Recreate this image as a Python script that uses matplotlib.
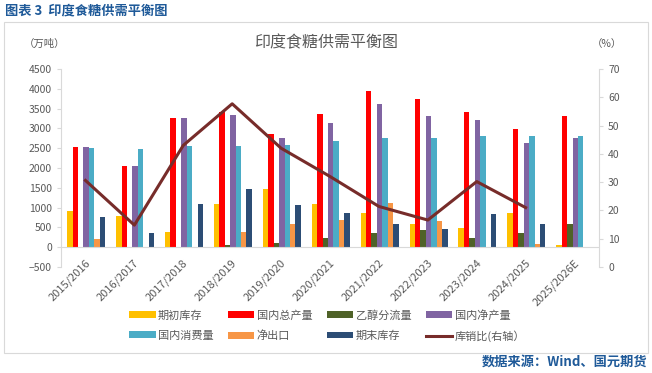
import numpy as np
import matplotlib.pyplot as plt
from matplotlib.patches import Rectangle
from matplotlib.lines import Line2D

plt.rcParams['font.family'] = ['Noto Sans CJK SC', 'DejaVu Sans']

# 数据（万吨 / %）
years = ["2015/2016", "2016/2017", "2017/2018", "2018/2019", "2019/2020", "2020/2021",
         "2021/2022", "2022/2023", "2023/2024", "2024/2025", "2025/2026E"]
begin_stock = [922, 778, 372, 1100, 1480, 1083, 871, 592, 474, 863, 59]
production = [2530, 2047, 3274, 3420, 2860, 3375, 3942, 3731, 3426, 2995, 3325]
ethanol = [0, 0, 0, 59, 110, 237, 355, 423, 228, 364, 592]
net_production = [2520, 2039, 3274, 3333, 2750, 3147, 3604, 3308, 3203, 2631, 2750]
consumption = [2496, 2470, 2546, 2563, 2589, 2673, 2750, 2766, 2817, 2817, 2817]
net_export = [195, -25, -20, 389, 575, 693, 1125, 668, 0, 85, 0]
end_stock = [770, 364, 1091, 1472, 1066, 854, 584, 457, 846, 592, np.nan]
stock_ratio = [30.6, 14.8, 43.0, 57.7, 42.0, 32.0, 21.4, 16.6, 30.2, 21.0, np.nan]

series = [begin_stock, production, ethanol, net_production, consumption, net_export, end_stock]
names = ["期初库存", "国内总产量", "乙醇分流量", "国内净产量", "国内消费量", "净出口", "期末库存"]
colors = ["#FFC000", "#FF0000", "#4F6228", "#8064A2", "#4BACC6", "#F79646", "#2C4D75"]

fig = plt.figure(figsize=(6.52, 3.73), dpi=100)
fig.patches.append(Rectangle((4 / 652, 1 - 353 / 373), 644 / 652, 331 / 373,
                             transform=fig.transFigure, fill=False,
                             edgecolor="#D9D9D9", linewidth=0.8))

ax = fig.add_axes([61 / 652, 1 - 267 / 373, 538 / 652, 198 / 373])
x = np.arange(len(years))
w = 0.111
for i, (vals, c, n) in enumerate(zip(series, colors, names)):
    ax.bar(x - 3 * w + i * w + 0.015, vals, width=w, color=c, label=n, linewidth=0)

ax.axhline(0, color="#D9D9D9", linewidth=0.8)
ax.set_ylim(-500, 4500)
ax.set_yticks(range(-500, 4501, 500))
ax.set_xlim(-0.5, len(years) - 0.5)
ax.set_xticks(x + 0.06)
ax.set_xticklabels(years, rotation=45, ha="right", va="center", rotation_mode="anchor")
for s in ["top", "bottom", "right"]:
    ax.spines[s].set_visible(False)
ax.spines["left"].set_color("#D9D9D9")
ax.tick_params(axis="y", colors="#D9D9D9", labelcolor="#595959", labelsize=7.5, length=3)
ax.tick_params(axis="x", length=0, labelcolor="#595959", labelsize=8, pad=-4)

ax2 = ax.twinx()
ax2.plot(x, stock_ratio, color="#772C2A", linewidth=2.2)
ax2.set_ylim(0, 70)
ax2.set_yticks(range(0, 71, 10))
for s in ["top", "bottom", "left"]:
    ax2.spines[s].set_visible(False)
ax2.spines["right"].set_color("#D9D9D9")
ax2.tick_params(axis="y", colors="#D9D9D9", labelcolor="#595959", labelsize=7.5, length=3)

handles, labels = ax.get_legend_handles_labels()
handles.append(Line2D([], [], color="#772C2A", linewidth=2.2))
labels.append("库销比(右轴）")
order = [0, 4, 1, 5, 2, 6, 3, 7]
fig.legend([handles[k] for k in order], [labels[k] for k in order], ncol=4, loc="center",
           bbox_to_anchor=(327 / 652, 1 - 326 / 373),
           frameon=False, fontsize=8, labelcolor="#595959", handlelength=2.4,
           handleheight=0.55, handletextpad=0.2, columnspacing=1.3, labelspacing=0.9)

fig.text(326 / 652, 1 - 43 / 373, "印度食糖供需平衡图", ha="center", va="center",
         fontsize=11.5, color="#595959")
fig.text(45 / 652, 1 - 44 / 373, "（万吨）", ha="center", va="center", fontsize=7.5, color="#595959")
fig.text(607 / 652, 1 - 44 / 373, "（%）", ha="center", va="center", fontsize=7.5, color="#595959")
fig.text(5 / 652, 1 - 10 / 373, "图表 3  印度食糖供需平衡图", ha="left", va="center",
         fontsize=9.5, color="#1F5A99", fontweight="bold")
fig.text(647 / 652, 1 - 362 / 373, "数据来源：Wind、国元期货", ha="right", va="center",
         fontsize=9.5, color="#1F5A99", fontweight="bold")

fig.savefig("out.png", dpi=100)
